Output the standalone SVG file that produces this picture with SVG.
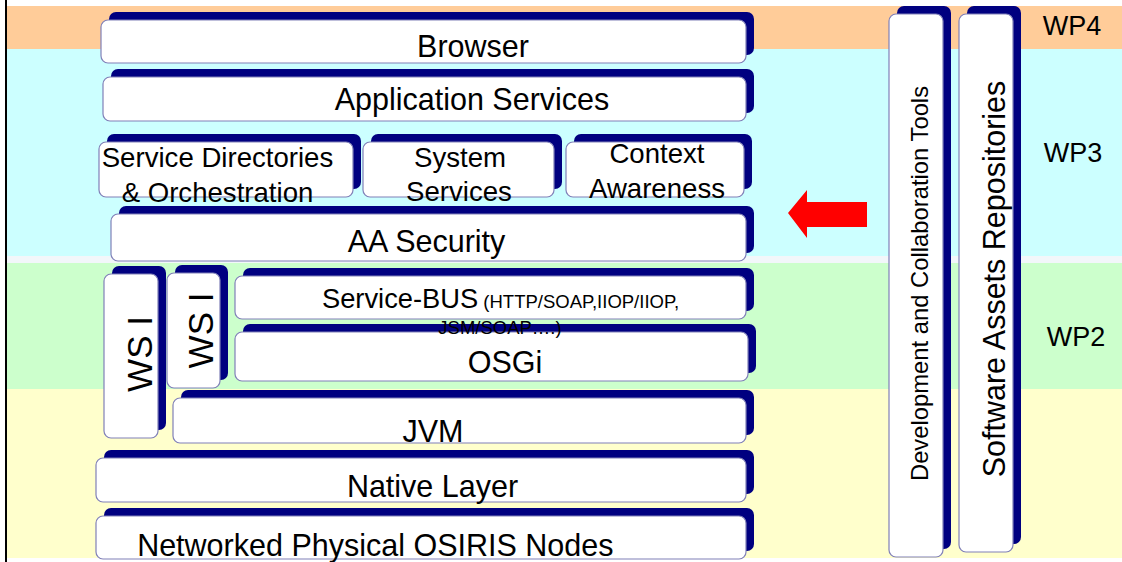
<svg xmlns="http://www.w3.org/2000/svg" width="1122" height="562" viewBox="0 0 1122 562">
  <style>
    .shadow { fill: #000080; }
    .box { fill: #ffffff; stroke: #8080b8; stroke-width: 1.2; }
    .lbl { font-family: "Liberation Sans", Arial, sans-serif; fill: #000000; text-anchor: middle; }
    .big { font-size: 30.5px; }
    .mid { font-size: 27.6px; }
    .small { font-size: 18.5px; }
    .wp { font-size: 27px; }
  </style>

  <!-- background bands -->
  <g id="bands">
    <rect x="0" y="0" width="1122" height="562" fill="#ffffff"/>
    <rect x="7" y="6" width="1115" height="43" fill="#ffcc99"/>
    <rect x="7" y="49" width="1115" height="207" fill="#ccffff"/>
    <rect x="7" y="256" width="1115" height="7" fill="#f2f7fa"/>
    <rect x="7" y="263" width="1115" height="126" fill="#ccffcc"/>
    <rect x="7" y="389" width="1115" height="169" fill="#ffffcc"/>
    <rect x="5" y="0" width="2" height="562" fill="#000000"/>
  </g>

  <!-- work package labels -->
  <g id="wp-labels">
    <text class="lbl wp" x="1072" y="35">WP4</text>
    <text class="lbl wp" x="1073" y="162">WP3</text>
    <text class="lbl wp" x="1076" y="346">WP2</text>
  </g>

  <g id="browser">
    <rect class="shadow" x="109" y="12" width="645" height="43" rx="7"/>
    <rect class="box" x="101" y="20" width="645" height="43" rx="7"/>
    <text class="lbl big" x="473" y="57">Browser</text>
  </g>

  <g id="application-services">
    <rect class="shadow" x="111" y="69" width="643" height="44" rx="7"/>
    <rect class="box" x="103" y="77" width="643" height="44" rx="7"/>
    <text class="lbl big" x="472" y="110">Application Services</text>
  </g>

  <g id="service-directories">
    <rect class="shadow" x="107" y="134" width="254" height="55" rx="7"/>
    <rect class="box" x="99" y="142" width="254" height="55" rx="7"/>
    <text class="lbl mid" x="217.5" y="167.3">Service Directories</text>
    <text class="lbl mid" x="217.5" y="202">&amp; Orchestration</text>
  </g>

  <g id="system-services">
    <rect class="shadow" x="371" y="134" width="191" height="55" rx="7"/>
    <rect class="box" x="363" y="142" width="191" height="55" rx="7"/>
    <text class="lbl mid" x="460" y="167.3">System</text>
    <text class="lbl mid" x="459" y="200.5">Services</text>
  </g>

  <g id="context-awareness">
    <rect class="shadow" x="574" y="134" width="178" height="55" rx="7"/>
    <rect class="box" x="566" y="142" width="178" height="55" rx="7"/>
    <text class="lbl mid" x="657" y="163.3">Context</text>
    <text class="lbl mid" x="657" y="197.5">Awareness</text>
  </g>

  <g id="aa-security">
    <rect class="shadow" x="119" y="206" width="635" height="47" rx="7"/>
    <rect class="box" x="111" y="214" width="635" height="47" rx="7"/>
    <text class="lbl big" x="426.5" y="252">AA Security</text>
  </g>

  <g id="ws-i-outer">
    <rect class="shadow" x="112" y="266" width="54" height="164" rx="7"/>
    <rect class="box" x="104" y="274" width="54" height="164" rx="7"/>
    <text class="lbl" font-size="35" transform="translate(151.7 354) rotate(-90)">WS I</text>
  </g>

  <g id="ws-i-inner">
    <rect class="shadow" x="175" y="265" width="53" height="115" rx="7"/>
    <rect class="box" x="167" y="273" width="53" height="115" rx="7"/>
    <text class="lbl" font-size="35" transform="translate(213.3 330.5) rotate(-90)">WS I</text>
  </g>

  <g id="service-bus">
    <rect class="shadow" x="243" y="268" width="511" height="43" rx="7"/>
    <rect class="box" x="235" y="276" width="511" height="43" rx="7"/>
  </g>

  <g id="osgi">
    <rect class="shadow" x="243" y="324" width="513" height="49" rx="7"/>
    <rect class="box" x="235" y="332" width="513" height="49" rx="7"/>
    <text class="lbl big" x="505" y="373">OSGi</text>
  </g>

  <!-- service bus caption wraps onto the OSGi layer -->
  <g id="service-bus-label">
    <text class="lbl" x="500.5" y="308"><tspan font-size="27.3">Service-BUS</tspan><tspan font-size="18.5"> (HTTP/SOAP,IIOP/IIOP,</tspan></text>
    <text class="lbl small" x="500" y="334">JSM/SOAP….)</text>
  </g>

  <g id="jvm">
    <rect class="shadow" x="181" y="390" width="573" height="45" rx="7"/>
    <rect class="box" x="173" y="398" width="573" height="45" rx="7"/>
    <text class="lbl big" x="433" y="442">JVM</text>
  </g>

  <g id="native-layer">
    <rect class="shadow" x="104" y="450" width="650" height="44" rx="7"/>
    <rect class="box" x="96" y="458" width="650" height="44" rx="7"/>
    <text class="lbl big" x="432.5" y="496.7">Native Layer</text>
  </g>

  <g id="physical-nodes">
    <rect class="shadow" x="104" y="508" width="650" height="43" rx="7"/>
    <rect class="box" x="96" y="516" width="650" height="43" rx="7"/>
    <text class="lbl big" x="375.3" y="556">Networked Physical OSIRIS Nodes</text>
  </g>

  <g id="dev-tools">
    <rect class="shadow" x="897" y="6" width="54" height="543" rx="7"/>
    <rect class="box" x="889" y="14" width="54" height="543" rx="7"/>
    <text class="lbl" font-size="23.8" transform="translate(928 283.5) rotate(-90)">Development and Collaboration Tools</text>
  </g>

  <g id="software-repositories">
    <rect class="shadow" x="967" y="6" width="54" height="538" rx="7"/>
    <rect class="box" x="959" y="14" width="54" height="538" rx="7"/>
    <text class="lbl" font-size="30.5" transform="translate(1005 279) rotate(-90)">Software Assets Repositories</text>
  </g>

  <g id="connectors">
    <polygon points="788,213 807,190 807,202 867,202 867,227 807,227 807,238" fill="#ff0000"/>
  </g>
</svg>
